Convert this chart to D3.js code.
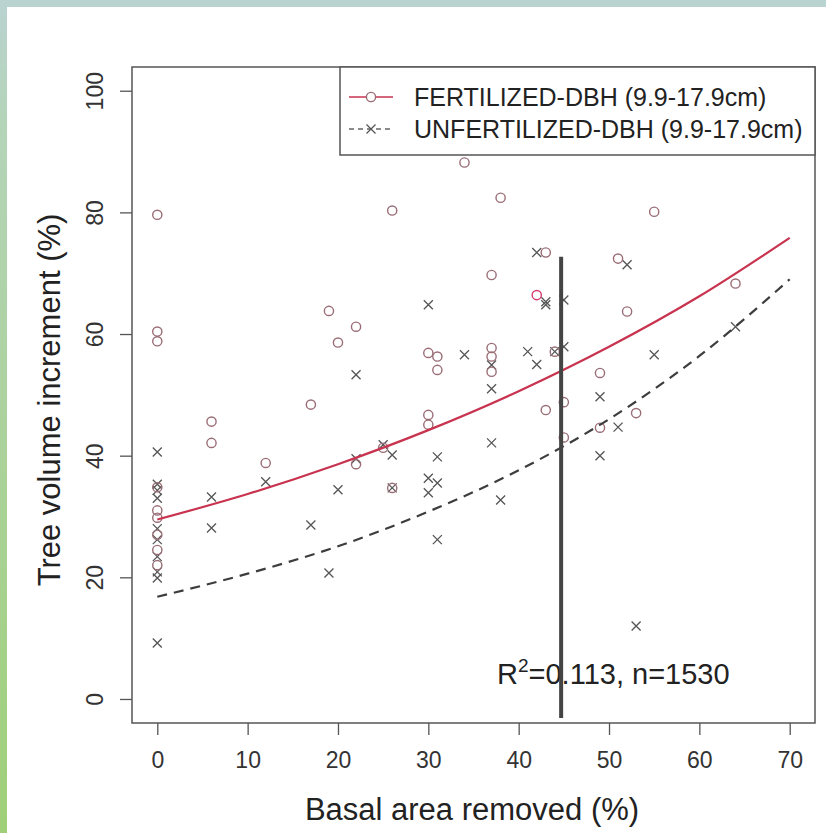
<!DOCTYPE html>
<html><head><meta charset="utf-8">
<script src="https://cdn.jsdelivr.net/npm/d3@7"></script>
<style>html,body{margin:0;padding:0;background:#fff;}svg{display:block;}</style>
</head><body>
<script>
// ---- data ----
const fertX = [0,0,0,0,0,0,0,0,0, 6,6, 12, 17, 19, 20, 22,22, 25, 26,26, 30,30,30, 31,31, 34, 37,37,37,37, 38, 42, 43,43, 44, 45,45, 49,49, 51, 52, 53, 55, 64];
const fertY = [79.6,60.4,58.8,34.8,31.0,29.8,27.0,24.5,22.0, 45.6,42.1, 38.8, 48.4, 63.8, 58.6, 61.2,38.6, 41.3, 80.3,34.7, 56.9,46.7,45.1, 56.3,54.1, 88.2, 69.7,57.7,56.3,53.8, 82.4, 66.4, 73.4,47.5, 57.1, 48.8,43.0, 53.6,44.6, 72.4, 63.7, 47.0, 80.1, 68.3];
const unfX = [0,0,0,0,0,0,0,0,0,0, 6,6, 12, 17, 19, 20, 22,22, 25, 26,26, 30,30,30, 31,31,31, 34, 37,37,37, 38, 41, 42,42, 43,43, 44, 45,45, 49,49, 51, 52, 53, 55, 64];
const unfY = [40.6,35.3,34.3,33.0,28.0,26.2,23.4,20.9,19.9,9.2, 33.2,28.1, 35.7, 28.6, 20.7, 34.4, 53.3,39.5, 41.8, 40.1,34.7, 64.8,36.3,33.9, 39.8,35.5,26.2, 56.6, 54.9,51.0,42.1, 32.7, 57.1, 73.4,55.0, 64.8,65.3, 57.1, 65.6,57.9, 49.7,40.0, 44.7, 71.4, 12.0, 56.6, 61.2];
const fitX = [0,10,20,30,40,50,60,70];
const fertFit = [29.5,33.7,38.6,44.2,50.6,57.9,66.2,75.8];
const unfFit = [16.8,20.6,25.1,30.8,37.6,46.0,56.4,69.0];
const xTicks = [0,10,20,30,40,50,60,70];
const yTicks = [0,20,40,60,80,100];
const legendLabels = ["FERTILIZED-DBH (9.9-17.9cm)", "UNFERTILIZED-DBH (9.9-17.9cm)"];
const annotation = {r2: "0.113", n: "1530"};
const cutX = 44.7;
const cutTop = 72.7;

// ---- layout ----
const W = 826, H = 833;
const box = {l: 132, t: 67, r: 815, b: 723};
const FONT = "'Liberation Sans', Arial, Helvetica, sans-serif";
const redCol = "#c8334f", ptRed = "#9a6d76";

const svg = d3.select("body").append("svg").attr("width", W).attr("height", H);

// page background strips
const defs = svg.append("defs");
const g1 = defs.append("linearGradient").attr("id","lg").attr("x1",0).attr("y1",0).attr("x2",0).attr("y2",1);
g1.append("stop").attr("offset","0%").attr("stop-color","#b9d3d0");
g1.append("stop").attr("offset","15%").attr("stop-color","#b4d4b8");
g1.append("stop").attr("offset","100%").attr("stop-color","#9fd078");
svg.append("rect").attr("x",0).attr("y",0).attr("width",W).attr("height",H).attr("fill","#fff");
svg.append("rect").attr("x",0).attr("y",0).attr("width",W).attr("height",7).attr("fill","#b9d3d0");
svg.append("rect").attr("x",0).attr("y",0).attr("width",7).attr("height",H).attr("fill","url(#lg)");

const x = d3.scaleLinear().domain([-2.8, 72.8]).range([box.l, box.r]);
const y = d3.scaleLinear().domain([-3.95, 103.9]).range([box.b, box.t]);

// axes
const xAxis = d3.axisBottom(x).tickValues(xTicks).tickSize(12).tickPadding(17).tickFormat(d3.format("d"));
const gx = svg.append("g").attr("transform", `translate(0,${box.b})`).call(xAxis);
gx.select(".domain").remove();
gx.selectAll("line").attr("stroke", "#555").attr("stroke-width", 1.3);
gx.selectAll("text").attr("font-family", FONT).attr("font-size", 23).attr("fill", "#333");

const yAxis = d3.axisLeft(y).tickValues(yTicks).tickSize(12).tickFormat(d3.format("d"));
const gy = svg.append("g").attr("transform", `translate(${box.l},0)`).call(yAxis);
gy.select(".domain").remove();
gy.selectAll("line").attr("stroke", "#555").attr("stroke-width", 1.3);
gy.selectAll("text").attr("font-family", FONT).attr("font-size", 23).attr("fill", "#333")
  .attr("x", null).attr("dy", null)
  .attr("text-anchor", "middle")
  .attr("transform", "translate(-29,0) rotate(-90)");

// plot box
svg.append("rect").attr("x", box.l).attr("y", box.t).attr("width", box.r - box.l).attr("height", box.b - box.t)
  .attr("fill", "none").attr("stroke", "#555").attr("stroke-width", 1.5);

// points: unfertilized (x marks)
const s = 4.5;
svg.append("g").selectAll("path").data(unfX.map((d,i)=>[d, unfY[i]])).join("path")
  .attr("d", d => { const cx = x(d[0]), cy = y(d[1]);
    return `M${cx-s},${cy-s}L${cx+s},${cy+s}M${cx-s},${cy+s}L${cx+s},${cy-s}`; })
  .attr("stroke", "#555").attr("stroke-width", 1.3).attr("fill", "none");

// points: fertilized (circles)
svg.append("g").selectAll("circle").data(fertX.map((d,i)=>[d, fertY[i]])).join("circle")
  .attr("cx", d => x(d[0])).attr("cy", d => y(d[1])).attr("r", 4.6)
  .attr("fill", "none").attr("stroke", (d,i) => i === 31 ? "#d23c6e" : ptRed).attr("stroke-width", 1.4);

// fitted curves
const line = d3.line().x(d => x(d[0])).y(d => y(d[1])).curve(d3.curveMonotoneX);
svg.append("path").attr("d", line(fitX.map((d,i)=>[d, fertFit[i]])))
  .attr("fill", "none").attr("stroke", redCol).attr("stroke-width", 2.2);
svg.append("path").attr("d", line(fitX.map((d,i)=>[d, unfFit[i]])))
  .attr("fill", "none").attr("stroke", "#3d3d3d").attr("stroke-width", 2.2).attr("stroke-dasharray", "10,7");

// annotation text
const ann = svg.append("text").attr("x", 497).attr("y", 684).attr("font-family", FONT).attr("font-size", 29).attr("fill", "#222");
ann.append("tspan").text("R");
ann.append("tspan").text("2").attr("font-size", 19).attr("dy", -12);
ann.append("tspan").text(`=${annotation.r2}, n=${annotation.n}`).attr("dy", 12);

// vertical cut line
svg.append("line").attr("x1", x(cutX)).attr("x2", x(cutX)).attr("y1", y(cutTop)).attr("y2", box.b - 5)
  .attr("stroke", "#444").attr("stroke-width", 4);

// legend
const lg = svg.append("g");
lg.append("rect").attr("x", 340).attr("y", box.t).attr("width", box.r - 340).attr("height", 88)
  .attr("fill", "#fff").attr("stroke", "#555").attr("stroke-width", 1.5);
const ly1 = 97, ly2 = 129;
lg.append("line").attr("x1", 349).attr("x2", 393).attr("y1", ly1).attr("y2", ly1).attr("stroke", redCol).attr("stroke-width", 1.5);
lg.append("circle").attr("cx", 371).attr("cy", ly1).attr("r", 4.6).attr("fill", "#fff").attr("stroke", ptRed).attr("stroke-width", 1.4);
lg.append("line").attr("x1", 349).attr("x2", 393).attr("y1", ly2).attr("y2", ly2).attr("stroke", "#666").attr("stroke-width", 1.3).attr("stroke-dasharray", "5,4");
lg.append("path").attr("d", `M${371-s},${ly2-s}L${371+s},${ly2+s}M${371-s},${ly2+s}L${371+s},${ly2-s}`)
  .attr("stroke", "#555").attr("stroke-width", 1.3);
lg.selectAll("text.l").data(legendLabels).join("text").attr("class","l")
  .attr("x", 414).attr("y", (d,i) => i ? ly2 + 9 : ly1 + 9)
  .attr("font-family", FONT).attr("font-size", 25).attr("fill", "#222").text(d => d);

// axis titles
svg.append("text").attr("x", 472).attr("y", 820).attr("text-anchor", "middle")
  .attr("font-family", FONT).attr("font-size", 31).attr("fill", "#222").text("Basal area removed (%)");
svg.append("text").attr("transform", `translate(60,400) rotate(-90)`).attr("text-anchor", "middle")
  .attr("font-family", FONT).attr("font-size", 31).attr("fill", "#222").text("Tree volume increment (%)");
</script>
</body></html>
